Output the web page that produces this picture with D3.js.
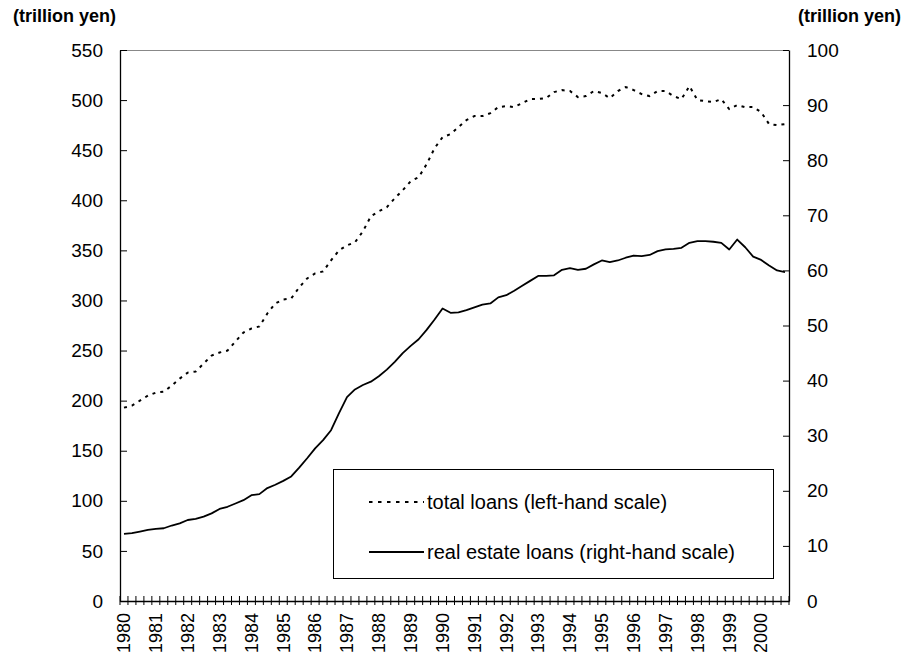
<!DOCTYPE html>
<html>
<head>
<meta charset="utf-8">
<script src="https://cdn.jsdelivr.net/npm/d3@7"></script>
<style>
  body { margin: 0; background: #fff; }
  svg { font-family: "Liberation Sans", Arial, sans-serif; }
</style>
</head>
<body>
<svg width="909" height="655"></svg>
<script>
// years on the category axis, one label per year (Q1)
var years = [1980, 1981, 1982, 1983, 1984, 1985, 1986, 1987, 1988, 1989, 1990,
  1991, 1992, 1993, 1994, 1995, 1996, 1997, 1998, 1999, 2000];
var quarterNames = ["Q1", "Q2", "Q3", "Q4"];

// total loans, trillion yen (left-hand scale), quarterly 1980Q1-2000Q4
var totalLoans = [
  193, 195, 200, 205, 208, 209, 215, 222, 228, 229,
  237, 245, 248, 250, 259, 268, 272, 274, 287, 297,
  301, 302, 313, 322, 327, 329, 340, 350, 355, 358,
  369, 384, 389, 393, 402, 410, 419, 423, 436, 452,
  463, 466, 473, 480, 484, 484, 487, 493, 494, 493,
  497, 501, 501, 502, 508, 510, 509, 503, 504, 509,
  507, 502, 509, 513, 510, 506, 504, 509, 509, 504,
  501, 514, 500, 499, 498, 501, 491, 495, 493, 493,
  488, 476, 475, 476
];

// real estate loans, trillion yen (right-hand scale)
var realEstateLoans = [
  12.2, 12.3, 12.6, 12.9, 13.1, 13.2, 13.7, 14.1, 14.7, 14.9,
  15.3, 15.9, 16.7, 17.1, 17.7, 18.3, 19.2, 19.4, 20.5, 21.1,
  21.8, 22.6, 24.2, 25.9, 27.7, 29.2, 31.0, 34.1, 37.0, 38.4,
  39.2, 39.8, 40.8, 42.0, 43.4, 45.0, 46.3, 47.5, 49.2, 51.1,
  53.1, 52.3, 52.4, 52.8, 53.3, 53.8, 54.0, 55.1, 55.5, 56.3,
  57.2, 58.1, 59.0, 59.0, 59.1, 60.1, 60.4, 60.1, 60.3, 61.1,
  61.8, 61.5, 61.8, 62.3, 62.7, 62.6, 62.8, 63.5, 63.8, 63.9,
  64.1, 65.0, 65.3, 65.3, 65.2, 65.0, 63.8, 65.6, 64.2, 62.5,
  61.9, 60.9, 60.0, 59.7
];

var leftTicks = [0, 50, 100, 150, 200, 250, 300, 350, 400, 450, 500, 550];
var rightTicks = [0, 10, 20, 30, 40, 50, 60, 70, 80, 90, 100];
var unitLabel = "(trillion yen)";
var legendLabels = ["total loans (left-hand scale)", "real estate loans (right-hand scale)"];

var svg = d3.select("svg");

//plot box edges ("top" is taken by window.top, so keep these in an object)
var plot = { left: 120, right: 789, top: 50, bottom: 601 };

// one category per quarter
var quarters = d3.cross(years, quarterNames, function(y, q) { return y + q; });

var x = d3.scaleBand()
  .domain(quarters)
  .range([plot.left, plot.right])
  .padding(0);

var yLeft = d3.scaleLinear().domain([0, 550]).range([plot.bottom, plot.top]);
var yRight = d3.scaleLinear().domain([0, 100]).range([plot.bottom, plot.top]);

function xc(i) { return x(quarters[i]) + x.bandwidth() / 2; }

//top border of the plot box
svg.append("line")
  .attr("x1", plot.left).attr("x2", plot.right)
  .attr("y1", plot.top + 0.5).attr("y2", plot.top + 0.5)
  .attr("stroke", "#888").attr("stroke-width", 1);

//left axis, ticks pointing inside
var gLeft = svg.append("g")
  .attr("transform", "translate(" + plot.left + ",0)")
  .call(d3.axisLeft(yLeft).tickValues(leftTicks).tickSizeInner(-7).tickSizeOuter(0).tickPadding(17));

//right axis
var gRight = svg.append("g")
  .attr("transform", "translate(" + plot.right + ",0)")
  .call(d3.axisRight(yRight).tickValues(rightTicks).tickSizeInner(-6).tickSizeOuter(0).tickPadding(18));

[gLeft, gRight].forEach(function(g) {
  g.select(".domain").attr("stroke", "#000").attr("stroke-width", 1.3);
  g.selectAll(".tick line").attr("stroke", "#000");
  g.selectAll(".tick text").attr("font-size", 19).attr("fill", "#000")
    .attr("font-family", "Liberation Sans, Arial, sans-serif");
});

//bottom axis: labels on the first quarter of each year
var gBottom = svg.append("g")
  .attr("transform", "translate(0," + plot.bottom + ")")
  .call(d3.axisBottom(x)
    .tickValues(quarters.filter(function(q, i) { return i % 4 === 0; }))
    .tickFormat(function(q) { return q.slice(0, 4); })
    .tickSize(0)
    .tickPadding(0));

gBottom.select(".domain").attr("stroke", "#000").attr("stroke-width", 1.3);
gBottom.selectAll(".tick text")
  .attr("font-size", 18)
  .attr("font-family", "Liberation Sans, Arial, sans-serif")
  .attr("fill", "#000")
  .attr("text-anchor", "end")
  .attr("transform", "translate(0,12) rotate(-90)")
  .attr("x", 0).attr("y", 0).attr("dy", "0.35em");

//cross ticks at the boundaries between quarters
var boundaries = quarters.map(function(q) { return x(q); }).concat([plot.right]);
svg.append("g").selectAll("line")
  .data(boundaries)
  .enter()
  .append("line")
  .attr("x1", function(d) { return d; })
  .attr("x2", function(d) { return d; })
  .attr("y1", plot.bottom - 5)
  .attr("y2", plot.bottom + 4)
  .attr("stroke", "#000")
  .attr("stroke-width", 1);

//the two series
var totalLine = d3.line()
  .x(function(d, i) { return xc(i); })
  .y(function(d) { return yLeft(d); });

var realLine = d3.line()
  .x(function(d, i) { return xc(i); })
  .y(function(d) { return yRight(d); });

svg.append("path")
  .datum(totalLoans)
  .attr("d", totalLine)
  .attr("fill", "none")
  .attr("stroke", "#000")
  .attr("stroke-width", 2)
  .attr("stroke-dasharray", "3,5");

svg.append("path")
  .datum(realEstateLoans)
  .attr("d", realLine)
  .attr("fill", "none")
  .attr("stroke", "#000")
  .attr("stroke-width", 1.8)
  .attr("stroke-linejoin", "round");

//unit labels
svg.append("text")
  .attr("x", 13).attr("y", 22)
  .attr("font-size", 18).attr("font-weight", "bold")
  .text(unitLabel);

svg.append("text")
  .attr("x", 798).attr("y", 22)
  .attr("font-size", 18).attr("font-weight", "bold")
  .text(unitLabel);

//legend
var legend = svg.append("g");
legend.append("rect")
  .attr("x", 333.5).attr("y", 469.5)
  .attr("width", 440).attr("height", 109)
  .attr("fill", "#fff")
  .attr("stroke", "#000")
  .attr("stroke-width", 1);

var legendRows = [
  { label: legendLabels[0], y: 502, dash: "3.5,5.5", width: 2 },
  { label: legendLabels[1], y: 552, dash: null, width: 1.8 }
];

legendRows.forEach(function(r) {
  legend.append("line")
    .attr("x1", 369).attr("x2", 424)
    .attr("y1", r.y).attr("y2", r.y)
    .attr("stroke", "#000")
    .attr("stroke-width", r.width)
    .attr("stroke-dasharray", r.dash);
  legend.append("text")
    .attr("x", 427).attr("y", r.y + 7)
    .attr("font-size", 20)
    .text(r.label);
});
</script>
</body>
</html>
